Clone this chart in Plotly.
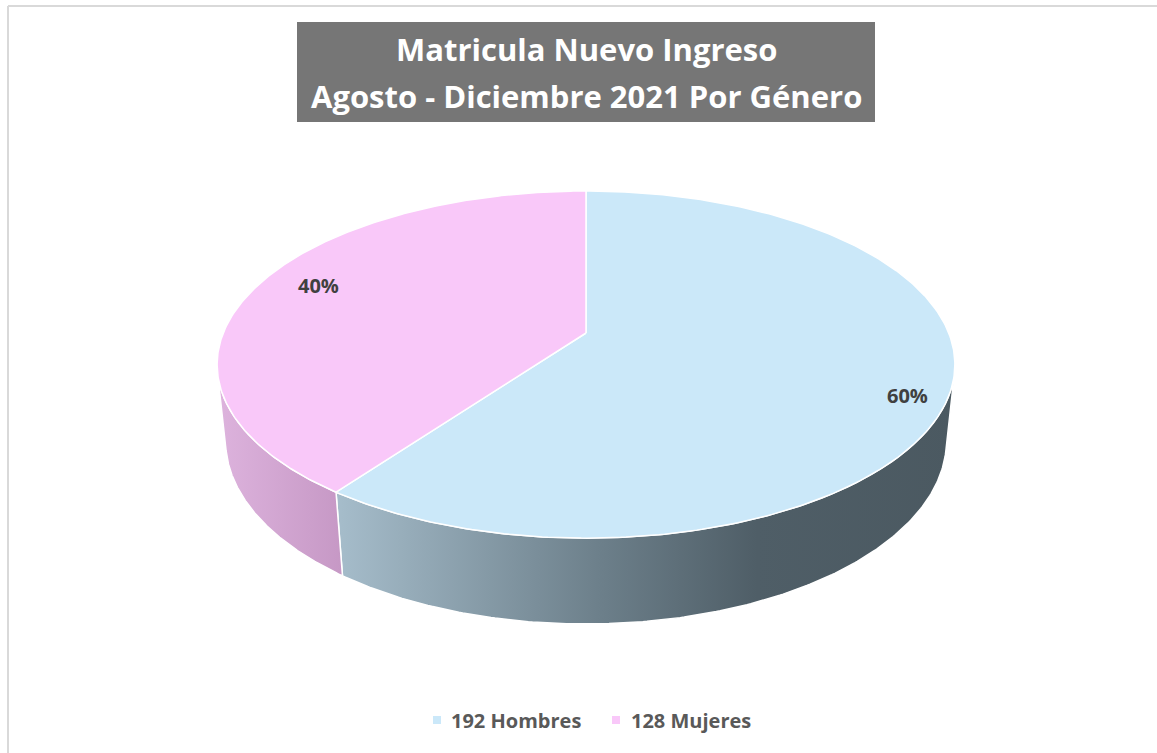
import numpy as np
import plotly.graph_objects as go

# ---------------------------------------------------------------------------
# Data
# ---------------------------------------------------------------------------
labels = ["Hombres", "Mujeres"]
values = [192, 128]
title_lines = ["Matricula Nuevo Ingreso", "Agosto - Diciembre 2021 Por Género"]

TOP_COLORS = ["#cbe8f9", "#f9c8f9"]
SIDE_SCALES = [
    [[0, "#a6bdcb"], [0.43, "#6c7f8a"], [0.68, "#4f5e67"], [1, "#4b5961"]],
    [[0, "#ddb3dd"], [1, "#c698c5"]],
]
FONT = "Open Sans"

W, H_PX = 1157, 753

# ---------------------------------------------------------------------------
# 3D pie geometry (perspective view of a flat cylinder)
# ---------------------------------------------------------------------------
CX, CY = 586, 333
K = 1768.6
DIST = 4.876
SIN_P, COS_P = 0.4627, 0.8865
THICK = 0.239


def project(theta_deg, r=1.0, level=0.0):
    t = np.radians(theta_deg)
    X = r * np.sin(t)
    Z = -r * np.cos(t)
    ry = -level * THICK - DIST * SIN_P
    rz = Z - DIST * COS_P
    depth = -(ry * SIN_P + rz * COS_P)
    up = ry * COS_P - rz * SIN_P
    return CX + K * X / depth, CY - K * up / depth


total = sum(values)
angles = np.cumsum([0] + [v / total * 360 for v in values])
vis_lo = np.degrees(np.arccos(-1 / (DIST * COS_P)))
vis_hi = 360 - vis_lo

fig = go.Figure()

# side walls
for i in range(len(values)):
    a, b = max(angles[i], vis_lo), min(angles[i + 1], vis_hi)
    if a >= b:
        continue
    th = np.linspace(a, b, 200)
    xt, yt = project(th, level=0)
    xb, yb = project(th[::-1], level=1)
    fig.add_trace(go.Scatter(
        x=np.concatenate([xt, xb, xt[:1]]),
        y=np.concatenate([yt, yb, yt[:1]]),
        mode="lines", fill="toself",
        fillgradient=dict(type="horizontal", colorscale=SIDE_SCALES[i]),
        line=dict(color="white", width=1.5),
        hoverinfo="skip", showlegend=False,
    ))

# top faces
for i in range(len(values)):
    th = np.linspace(angles[i], angles[i + 1], 300)
    xs, ys = project(th)
    fig.add_trace(go.Scatter(
        x=np.concatenate([[CX], xs, [CX]]),
        y=np.concatenate([[CY], ys, [CY]]),
        mode="lines", fill="toself", fillcolor=TOP_COLORS[i],
        line=dict(color="white", width=1.5),
        hoverinfo="skip", showlegend=False,
    ))

# percent labels
label_pos = [(907, 395), (318, 285)]
for v, (lx, ly) in zip(values, label_pos):
    fig.add_annotation(
        x=lx, y=ly, text=f"<b>{v / total * 100:.0f}%</b>", showarrow=False,
        font=dict(family=FONT, size=20, color="#404040"),
    )

# title box
fig.add_shape(type="rect", x0=297, x1=875, y0=22, y1=122,
              fillcolor="#767676", line=dict(width=0), layer="below")
for txt, ty in zip(title_lines, [49, 96]):
    fig.add_annotation(
        x=586, y=ty, text=f"<b>{txt}</b>", showarrow=False,
        font=dict(family=FONT, size=31, color="white"),
    )

# legend
legend_x = [(433, 449), (612, 629)]
for i, (sx, tx) in enumerate(legend_x):
    fig.add_shape(type="rect", x0=sx, x1=sx + 8, y0=716, y1=724,
                  fillcolor=TOP_COLORS[i], line=dict(width=0))
    fig.add_annotation(
        x=tx, y=720, xanchor="left", text=f"<b>{values[i]} {labels[i]}</b>",
        showarrow=False, font=dict(family=FONT, size=20, color="#595959"),
    )

# outer border
fig.add_shape(type="line", x0=8, x1=W, y0=6, y1=6, line=dict(color="#d9d9d9", width=2))
fig.add_shape(type="line", x0=8, x1=8, y0=6, y1=H_PX, line=dict(color="#d9d9d9", width=2))

fig.update_layout(
    width=W, height=H_PX,
    margin=dict(l=0, r=0, t=0, b=0),
    paper_bgcolor="white", plot_bgcolor="white",
    xaxis=dict(range=[0, W], visible=False, fixedrange=True),
    yaxis=dict(range=[H_PX, 0], visible=False, fixedrange=True),
    showlegend=False,
)

fig.write_html(
    "out.html",
    config={"displayModeBar": False},
    post_script="document.body.style.margin='0';document.body.style.overflow='hidden';",
)
